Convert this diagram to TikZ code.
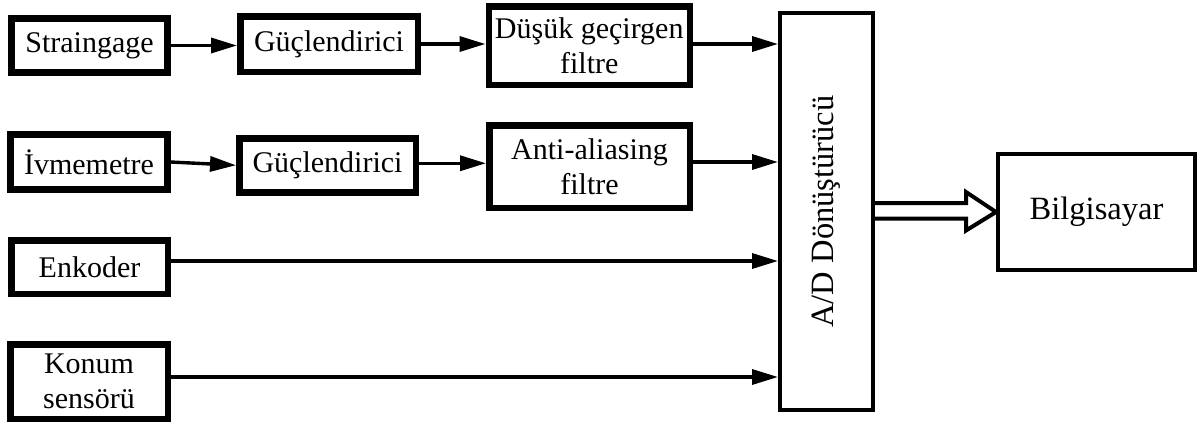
\documentclass[tikz,border=0pt]{standalone}
\usepackage{fontspec}
\setmainfont{Liberation Serif}
\usetikzlibrary{arrows.meta,calc}
\begin{document}
\begin{tikzpicture}[x=1pt,y=-1pt,
  heavybox/.style={draw, line width=6.5pt, inner sep=0pt, align=center,
    font=\fontsize{30}{35}\selectfont},
  thinbox/.style={draw, line width=3.6pt, inner sep=0pt, align=center,
    font=\fontsize{32.5}{38}\selectfont},
  flow/.style={line width=3.4pt, -{Triangle[length=26pt,width=15pt]}},
  hollow/.style={draw, line width=4pt, fill=white, line join=miter}]
\useasboundingbox (0,0) rectangle (1198,426);

% sensor chain blocks
\node[heavybox, minimum width=156pt,   minimum height=54pt]   (sg) at (89.5,45.5)   {Straingage};
\node[heavybox, minimum width=177.5pt, minimum height=55.5pt] (g1) at (329,44)      {Güçlendirici};
\node[heavybox, minimum width=201pt,   minimum height=78.5pt] (dg) at (589.25,45.5) {Düşük geçirgen\\filtre};
\node[heavybox, minimum width=157pt,   minimum height=55pt]   (iv) at (89,162)      {İvmemetre};
\node[heavybox, minimum width=176.5pt, minimum height=54pt]   (g2) at (327.5,165.25) {Güçlendirici};
\node[heavybox, minimum width=200.5pt, minimum height=82.5pt] (aa) at (589.5,166.5) {Anti-aliasing\\filtre};
\node[heavybox, minimum width=156.5pt, minimum height=53.5pt] (en) at (89.5,267)    {Enkoder};
\node[heavybox, minimum width=157.5pt, minimum height=74.5pt] (ks) at (89,381.5)    {Konum\\sensörü};

% converter and computer
\node[thinbox, minimum width=93.4pt, minimum height=397.4pt] (ad) at (826.5,211.5)
  {\rotatebox{90}{A/D Dönüştürücü}};
\node[thinbox, minimum width=197.4pt, minimum height=116.4pt] (bil) at (1096.5,212) {Bilgisayar};

% signal connectors
\draw[flow] (sg.east) -- (sg.east -| g1.west);
\draw[flow] (g1.east) -- (g1.east -| dg.west);
\draw[flow] ($(dg.east)+(0,-1.5)$) -- ($(dg.east -| ad.west)+(0,-1.5)$);
\draw[flow] (iv.east) -- (g2.west);
\draw[flow] ($(g2.east)+(0,-2)$) -- ($(g2.east -| aa.west)+(0,-2)$);
\draw[flow] ($(aa.east)+(0,-4.5)$) -- ($(aa.east -| ad.west)+(0,-4.5)$);
\draw[flow] ($(en.east)+(0,-6)$) -- ($(en.east -| ad.west)+(0,-6)$);
\draw[flow] ($(ks.east)+(0,-4.5)$) -- ($(ks.east -| ad.west)+(0,-4.5)$);

% hollow data bus arrow
\draw[hollow] ($(ad.east)+(0,-8.5)$) -- ++(91,0) -- ++(0,-11) -- (bil.west)
  -- ($(ad.east)+(91,19)$) -- ++(0,-12) -- ($(ad.east)+(0,7)$);
\end{tikzpicture}
\end{document}
